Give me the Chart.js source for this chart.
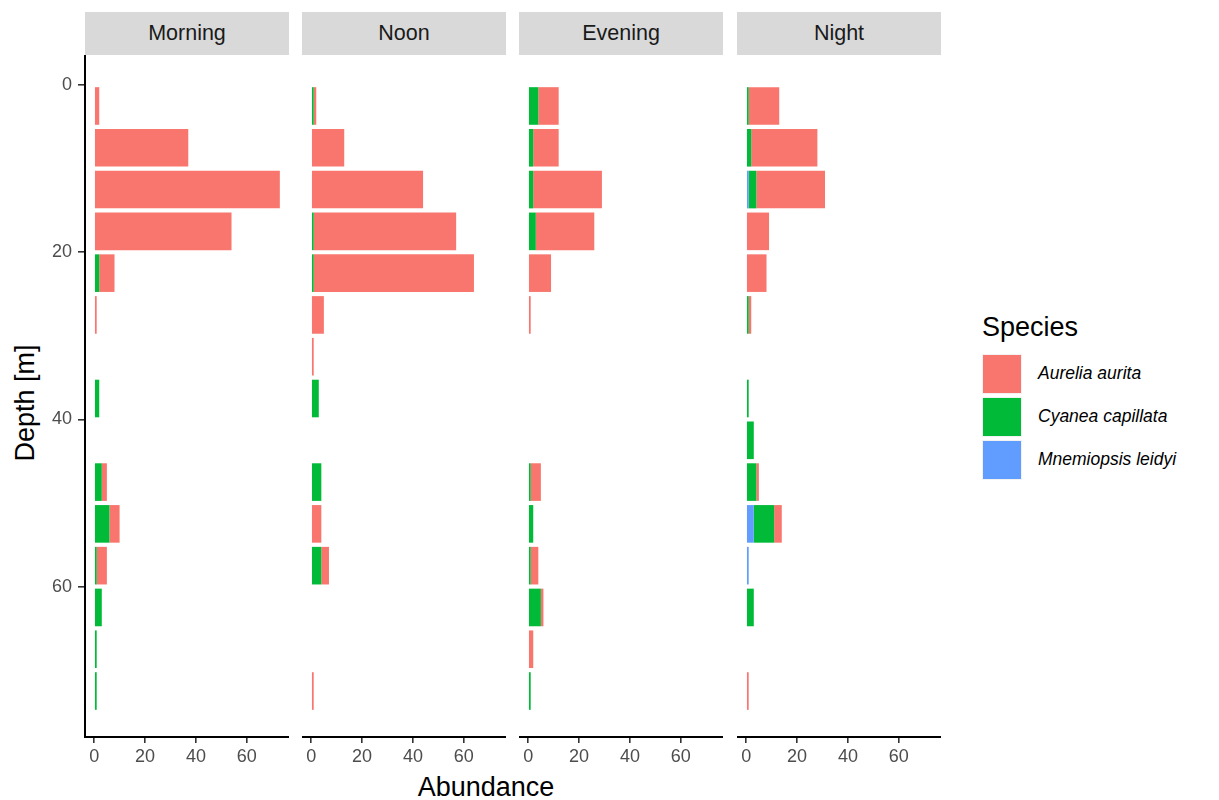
<!DOCTYPE html>
<html>
<head>
<meta charset="utf-8">
<title>Jellyfish abundance by depth</title>
<script src="https://cdn.jsdelivr.net/npm/chart.js@4.4.0/dist/chart.umd.min.js"></script>
<style>
  body { margin: 0; background: #fff; font-family: "Liberation Sans", Arial, sans-serif; }
  #wrap { position: relative; width: 1219px; height: 800px; overflow: hidden; }
  canvas { position: absolute; top: 55px; }
  .strip {
    position: absolute; top: 12px; height: 43px; width: 204px;
    background: #d9d9d9; color: #1a1a1a; font-size: 21.5px;
    text-align: center; line-height: 43px;
  }
  .axis-title { position: absolute; color: #000; font-size: 27px; white-space: nowrap; }
  #ytitle { left: 25px; top: 403px; transform: translate(-50%, -50%) rotate(-90deg); }
  #xtitle { left: 486px; top: 787px; transform: translate(-50%, -50%); }
  #legend { position: absolute; left: 982px; top: 310px; }
  #legend .ttl { font-size: 27px; color: #000; height: 42px; line-height: 34px; }
  #legend .row { height: 43px; display: flex; align-items: center; }
  #legend .key { width: 40px; height: 40px; box-sizing: border-box; border: 1px solid #f2f2f2; margin-right: 16px; }
  #legend .lbl { font-size: 17.5px; font-style: italic; color: #000; }
</style>
</head>
<body>
<div id="wrap">
  <div id="ytitle" class="axis-title">Depth [m]</div>
  <div id="xtitle" class="axis-title">Abundance</div>
  <div id="legend"></div>
</div>
<script>
// depth bins (bin centres, metres) and the times of day used as facets
const depths = [2.5, 7.5, 12.5, 17.5, 22.5, 27.5, 32.5, 37.5, 42.5, 47.5, 52.5, 57.5, 62.5, 67.5, 72.5];
const periods = ['Morning', 'Noon', 'Evening', 'Night'];
const species = ['Aurelia aurita', 'Cyanea capillata', 'Mnemiopsis leidyi'];
const speciesColors = ['#F8766D', '#00BA38', '#619CFF'];

const depthTicks = [0, 20, 40, 60];
const abundanceTicks = [0, 20, 40, 60];

// counts per depth bin
const morningAurelia    = [2, 37, 73, 54, 6, 1, 0, 0, 0, 2, 4, 4, 0, 0, 0];
const morningCyanea     = [0, 0, 0, 0, 2, 0, 0, 2, 0, 3, 6, 1, 3, 1, 1];
const morningMnemiopsis = [0, 0, 0, 0, 0, 0, 0, 0, 0, 0, 0, 0, 0, 0, 0];

const noonAurelia    = [1, 13, 44, 56, 63, 5, 1, 0, 0, 0, 4, 3, 0, 0, 1];
const noonCyanea     = [1, 0, 0, 1, 1, 0, 0, 3, 0, 4, 0, 4, 0, 0, 0];
const noonMnemiopsis = [0, 0, 0, 0, 0, 0, 0, 0, 0, 0, 0, 0, 0, 0, 0];

const eveningAurelia    = [8, 10, 27, 23, 9, 1, 0, 0, 0, 4, 0, 3, 1, 2, 0];
const eveningCyanea     = [4, 2, 2, 3, 0, 0, 0, 0, 0, 1, 2, 1, 5, 0, 1];
const eveningMnemiopsis = [0, 0, 0, 0, 0, 0, 0, 0, 0, 0, 0, 0, 0, 0, 0];

const nightAurelia    = [12, 26, 27, 9, 8, 1, 0, 0, 0, 1, 3, 0, 0, 0, 1];
const nightCyanea     = [1, 2, 3, 0, 0, 1, 0, 1, 3, 4, 8, 0, 3, 0, 0];
const nightMnemiopsis = [0, 0, 1, 0, 0, 0, 0, 0, 0, 0, 3, 1, 0, 0, 0];

// per facet, in species order
const panelSeries = [
    [morningAurelia, morningCyanea, morningMnemiopsis],
    [noonAurelia, noonCyanea, noonMnemiopsis],
    [eveningAurelia, eveningCyanea, eveningMnemiopsis],
    [nightAurelia, nightCyanea, nightMnemiopsis]
];

const panelLefts = [85, 302, 519, 737];
const panelWidth = 204;
const panelHeight = 682;
const yAxisWidth = 85;
const xAxisHeight = 48;

const tickFont = { family: '"Liberation Sans", Arial, sans-serif', size: 18 };

/**
 * Builds one facet: stacked horizontal bars on a reversed depth axis.
 */
function drawPanel(idx) {
    const wrap = document.getElementById('wrap');
    const withYAxis = idx === 0;

    const strip = document.createElement('div');
    strip.className = 'strip';
    strip.style.left = panelLefts[idx] + 'px';
    strip.textContent = periods[idx];
    wrap.appendChild(strip);

    const canvas = document.createElement('canvas');
    canvas.width = panelWidth + (withYAxis ? yAxisWidth : 0);
    canvas.height = panelHeight + xAxisHeight;
    canvas.style.left = (panelLefts[idx] - (withYAxis ? yAxisWidth : 0)) + 'px';
    wrap.appendChild(canvas);

    // stack from the axis outwards: Mnemiopsis, Cyanea, Aurelia
    const datasets = [2, 1, 0].map(s => ({
        label: species[s],
        data: depths
            .map((d, i) => ({ x: panelSeries[idx][s][i], y: d }))
            .filter(p => p.x > 0),
        backgroundColor: speciesColors[s],
        borderWidth: 0,
        stack: 'all',
        barPercentage: 0.9,
        categoryPercentage: 1.0
    }));

    new Chart(canvas, {
        type: 'bar',
        data: { datasets: datasets },
        options: {
            indexAxis: 'y',
            responsive: false,
            animation: false,
            layout: { padding: 0, autoPadding: false },
            plugins: { legend: { display: false }, tooltip: { enabled: false } },
            scales: {
                x: {
                    type: 'linear',
                    stacked: true,
                    min: -3.6,
                    max: 76.6,
                    afterBuildTicks: s => { s.ticks = abundanceTicks.map(v => ({ value: v })); },
                    afterFit: s => {
                        s.height = xAxisHeight;
                        s.paddingLeft = 0;
                        s.paddingRight = 0;
                    },
                    border: { display: true, color: '#000', width: 2 },
                    grid: { offset: false, drawOnChartArea: false, drawTicks: true, tickLength: 6, color: '#333', lineWidth: 1.6 },
                    ticks: { color: '#4d4d4d', font: tickFont, padding: 3, maxRotation: 0 }
                },
                y: {
                    type: 'linear',
                    reverse: true,
                    offset: false,
                    min: -3.6,
                    max: 78,
                    display: withYAxis,
                    afterBuildTicks: s => { s.ticks = depthTicks.map(v => ({ value: v })); },
                    afterFit: s => {
                        // keep the panel the full height, labels never push it in
                        s.width = withYAxis ? yAxisWidth : 0;
                        s.paddingTop = 0;
                        s.paddingBottom = 0;
                    },
                    border: { display: true, color: '#000', width: 2 },
                    grid: { offset: false, drawOnChartArea: false, drawTicks: true, tickLength: 7, color: '#333', lineWidth: 1.6 },
                    ticks: { color: '#4d4d4d', font: tickFont, padding: 6 }
                }
            }
        }
    });
}

function drawLegend() {
    const box = document.getElementById('legend');
    const ttl = document.createElement('div');
    ttl.className = 'ttl';
    ttl.textContent = 'Species';
    box.appendChild(ttl);
    species.forEach((name, i) => {
        const row = document.createElement('div');
        row.className = 'row';
        const key = document.createElement('div');
        key.className = 'key';
        key.style.background = speciesColors[i];
        const lbl = document.createElement('span');
        lbl.className = 'lbl';
        lbl.textContent = name;
        row.appendChild(key);
        row.appendChild(lbl);
        box.appendChild(row);
    });
}

periods.forEach((p, i) => drawPanel(i));
drawLegend();
</script>
</body>
</html>
